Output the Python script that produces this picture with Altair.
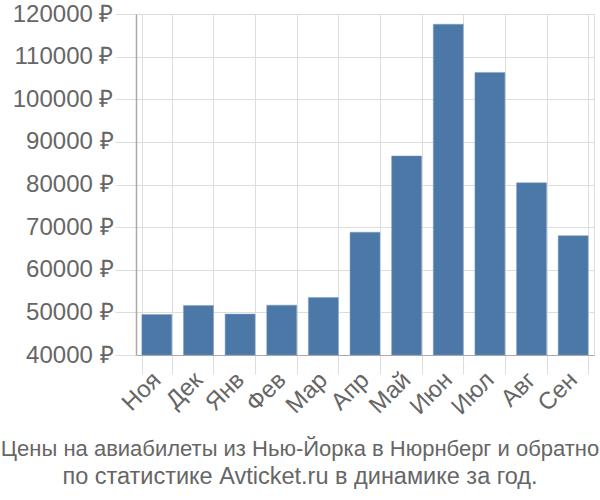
import altair as alt
import pandas as pd

months = ["Ноя", "Дек", "Янв", "Фев", "Мар", "Апр", "Май", "Июн", "Июл", "Авг", "Сен"]
prices = [49500, 51600, 49600, 51700, 53500, 68800, 86700, 117600, 106300, 80400, 68000]
title_line1 = "Цены на авиабилеты из Нью-Йорка в Нюрнберг и обратно"
title_line2 = "по статистике Avticket.ru в динамике за год."
y_min, y_max = 40000, 120000

df = pd.DataFrame({"month": months, "price": prices})

FONT = "Liberation Sans"
GREY = "#666666"
FS = 24

chart = alt.Chart(df).mark_bar(color="#4c78a8", stroke="#7f9fc4", strokeWidth=0.5).encode(
    x=alt.X("month:N", sort=months, title=None,
            scale=alt.Scale(paddingInner=0.28, paddingOuter=0.14),
            axis=alt.Axis(labelAngle=-45, labelAlign="right", labelBaseline="middle",
                          labelFont=FONT, labelFontSize=FS, labelColor=GREY,
                          labelPadding=2, tickBand="extent",
                          grid=True, gridColor="#dddddd",
                          tickSize=19, tickColor="#dddddd", domainColor="#aaaaaa")),
    y=alt.Y("price:Q", title=None,
            scale=alt.Scale(domain=[y_min, y_max], zero=False, nice=False),
            axis=alt.Axis(values=list(range(y_min, y_max + 1, 10000)),
                          labelExpr="datum.value + ' ₽'",
                          labelFont=FONT, labelFontSize=FS, labelColor=GREY,
                          gridColor="#dddddd", tickSize=21, tickColor="#dddddd",
                          domainColor="#aaaaaa", domainWidth=1.5, labelPadding=2)),
    y2=alt.datum(y_min),
).properties(
    width=458,
    height=341,
    title=alt.TitleParams(title_line1, subtitle=title_line2,
                          orient="bottom", anchor="middle",
                          font=FONT, fontSize=22, fontWeight="normal", color=GREY,
                          subtitleFont=FONT, subtitleFontSize=23.5,
                          subtitleColor=GREY, subtitlePadding=4,
                          offset=20, dx=-65),
    padding={"left": 136, "top": 14, "right": 6, "bottom": 145},
    autosize=alt.AutoSizeParams(type="none"),
).configure_view(stroke="#dddddd")

chart.save("out.html", embed_options={"renderer": "svg", "actions": False})
